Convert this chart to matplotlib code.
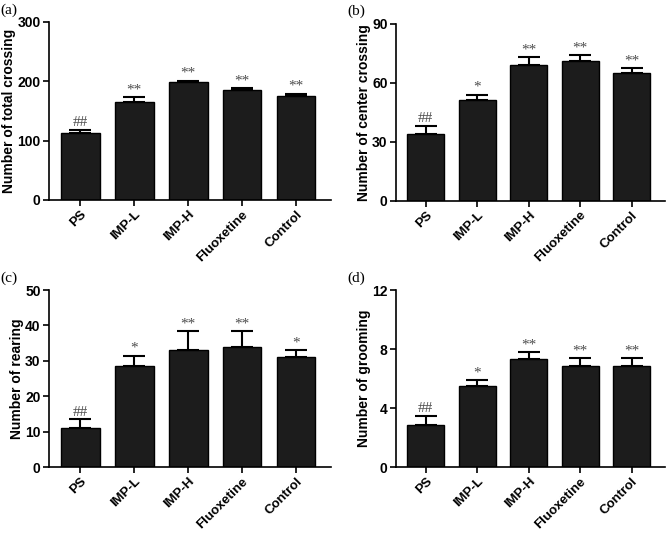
import numpy as np
import matplotlib.pyplot as plt

groups = ['PS', 'IMP-L', 'IMP-H', 'Fluoxetine', 'Control']

total_mean = [113, 165, 198, 185, 175]
total_err = [5, 8, 3, 3, 4]
total_sig = ['##', '**', '**', '**', '**']

center_mean = [34, 51, 69, 71, 65]
center_err = [4, 3, 4, 3, 2.5]
center_sig = ['##', '*', '**', '**', '**']

rearing_mean = [11, 28.5, 33, 34, 31]
rearing_err = [2.5, 3, 5.5, 4.5, 2]
rearing_sig = ['##', '*', '**', '**', '*']

groom_mean = [2.85, 5.5, 7.35, 6.85, 6.85]
groom_err = [0.6, 0.4, 0.45, 0.55, 0.55]
groom_sig = ['##', '*', '**', '**', '**']

plt.rcParams['font.family'] = ['Liberation Sans', 'DejaVu Sans']

fig = plt.figure(figsize=(6.66, 5.33), dpi=100)

panels = [
    ('(a)', [0.0736, 0.625, 0.4235, 0.334], total_mean, total_err, total_sig,
     'Number of total crossing', 300, [0, 100, 200, 300]),
    ('(b)', [0.5946, 0.6235, 0.404, 0.332], center_mean, center_err, center_sig,
     'Number of center crossing', 90, [0, 30, 60, 90]),
    ('(c)', [0.0736, 0.1238, 0.4235, 0.332], rearing_mean, rearing_err, rearing_sig,
     'Number of rearing', 50, [0, 10, 20, 30, 40, 50]),
    ('(d)', [0.5946, 0.1238, 0.404, 0.332], groom_mean, groom_err, groom_sig,
     'Number of grooming', 12, [0, 4, 8, 12]),
]

x = np.arange(len(groups))
for label, rect, mean, err, sig, ylab, ymax, yt in panels:
    ax = fig.add_axes(rect)
    ax.bar(x, mean, width=0.72, color='#1c1c1c', edgecolor='black', linewidth=1)
    ax.errorbar(x, mean, yerr=[np.zeros(len(err)), err], fmt='none',
                ecolor='black', elinewidth=1.5, capsize=8, capthick=1.5)
    for xi, m, e, s in zip(x, mean, err, sig):
        ax.text(xi, m + e + ymax * 0.004, s, ha='center', va='bottom',
                fontsize=11, color='#4d4d4d', family='Liberation Serif')
    ax.set_xlim(-0.58, 4.65)
    ax.set_ylim(0, ymax)
    ax.set_yticks(yt)
    ax.set_xticks(x)
    ax.set_xticklabels(groups, rotation=45, ha='right', rotation_mode='anchor',
                       fontsize=9.5, fontweight='bold')
    for t in ax.get_yticklabels():
        t.set_fontweight('bold')
        t.set_fontsize(10)
    ax.tick_params(axis='x', length=4, width=1.2, pad=2)
    ax.tick_params(axis='y', length=4, width=1.2, pad=2)
    ax.set_ylabel(ylab, fontsize=10, fontweight='bold', labelpad=1)
    ax.spines['top'].set_visible(False)
    ax.spines['right'].set_visible(False)
    ax.spines['left'].set_linewidth(1.2)
    ax.spines['bottom'].set_linewidth(1.2)
    fig.text(rect[0] - 0.073, rect[1] + rect[3] + 0.01, label, fontsize=11,
             family='Liberation Serif', va='bottom', ha='left')

fig.savefig('out.png', dpi=100)
